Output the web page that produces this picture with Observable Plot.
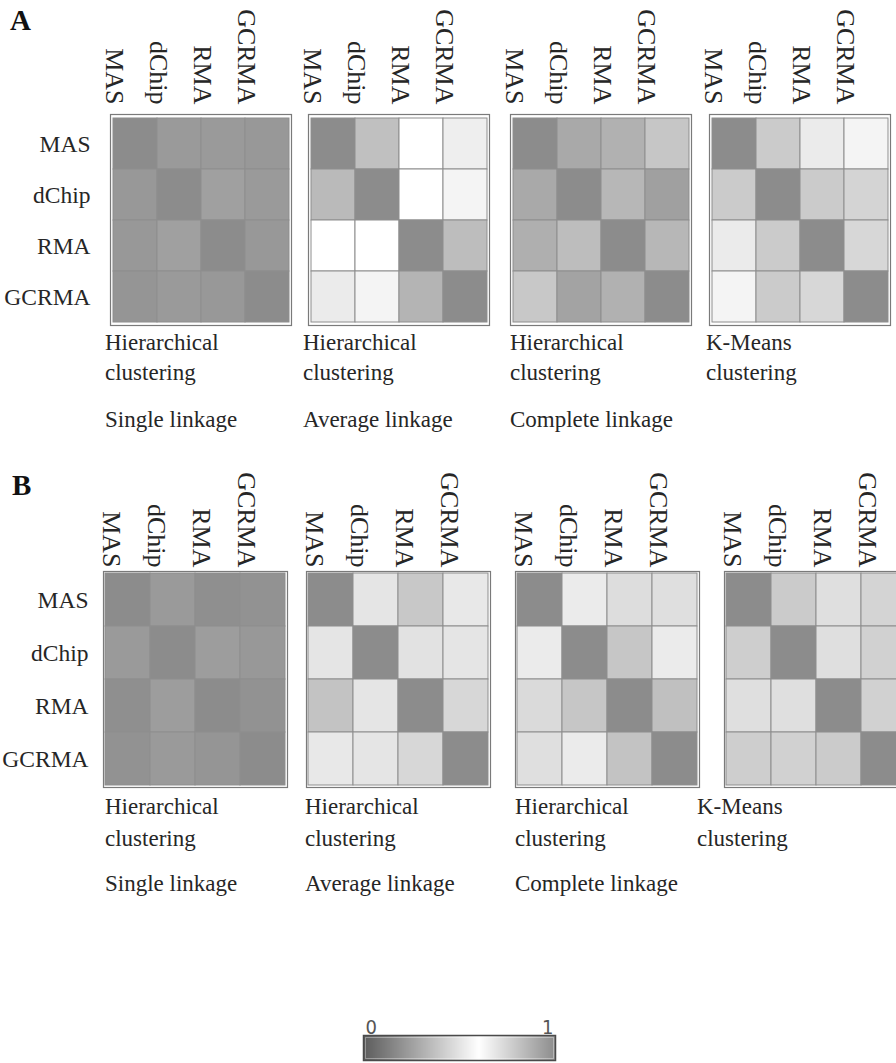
<!DOCTYPE html>
<html><head><meta charset="utf-8">
<script src="https://cdn.jsdelivr.net/npm/d3@7"></script>
<script src="https://cdn.jsdelivr.net/npm/@observablehq/plot@0.6"></script>
<style>
body{margin:0;background:#fff;}
#root{position:relative;width:896px;height:1063px;overflow:hidden;font-family:"Liberation Serif","Times New Roman",serif;color:#262626;}
.abs{position:absolute;white-space:nowrap;}
.abs svg{max-width:none !important;}
.sub{font-size:23px;line-height:23px;}
.letter{font-weight:bold;font-size:29px;line-height:29px;color:#111;}
</style></head><body><div id="root"></div>
<script>
// ---- data ----
const methods = ["MAS", "dChip", "RMA", "GCRMA"];
const titleLine1 = ["Hierarchical", "Hierarchical", "Hierarchical", "K-Means"];
const titleLine2 = ["clustering", "clustering", "clustering", "clustering"];
const titleLine3 = ["Single linkage", "Average linkage", "Complete linkage", ""];
const panelLetters = ["A", "B"];
const colorbarTicks = [0, 1];

// similarity matrices (rows = methods, cols = methods)
const A_single   = [[1.00,0.95,0.95,0.96],[0.96,1.00,0.93,0.95],[0.96,0.93,1.00,0.96],[0.97,0.95,0.96,1.00]];
const A_average  = [[1.00,0.82,0.60,0.66],[0.84,1.00,0.60,0.64],[0.60,0.60,1.00,0.83],[0.67,0.64,0.86,1.00]];
const A_complete = [[1.00,0.90,0.87,0.80],[0.90,1.00,0.85,0.93],[0.88,0.83,1.00,0.85],[0.79,0.92,0.87,1.00]];
const A_kmeans   = [[1.00,0.78,0.67,0.64],[0.78,1.00,0.78,0.75],[0.67,0.78,1.00,0.74],[0.64,0.78,0.74,1.00]];
const B_single   = [[1.00,0.95,0.99,0.98],[0.95,1.00,0.94,0.96],[0.99,0.94,1.00,0.98],[0.98,0.95,0.97,1.00]];
const B_average  = [[1.00,0.69,0.79,0.68],[0.69,1.00,0.70,0.69],[0.81,0.69,1.00,0.74],[0.68,0.69,0.74,1.00]];
const B_complete = [[1.00,0.67,0.72,0.71],[0.67,1.00,0.80,0.67],[0.73,0.80,1.00,0.82],[0.71,0.67,0.81,1.00]];
const B_kmeans   = [[1.00,0.78,0.71,0.75],[0.77,1.00,0.71,0.76],[0.71,0.71,1.00,0.76],[0.77,0.76,0.78,1.00]];

const colorDomain = [0, 0.6, 1];
const colorRange = ["#5c5c5c", "#ffffff", "#8c8c8c"];

// ---- layout ----
const root = document.getElementById("root");
const serif = '"Liberation Serif","Times New Roman",serif';
const colorScale = {type: "linear", domain: colorDomain, range: colorRange};

function place(el, left, top, w, h) {
  const d = document.createElement("div");
  d.className = "abs";
  d.style.left = left + "px"; d.style.top = top + "px";
  d.style.width = w + "px"; d.style.height = h + "px";
  el.style.maxWidth = "none";
  el.style.width = w + "px"; el.style.height = h + "px";
  d.appendChild(el);
  root.appendChild(d);
  return d;
}
function label(text, cls, left, top) {
  const d = document.createElement("div");
  d.className = "abs " + cls;
  d.style.left = left + "px"; d.style.top = top + "px";
  d.textContent = text;
  root.appendChild(d);
}

function heatmap(matrix, g) {
  const data = matrix.flatMap((row, i) => row.map((v, j) => ({row: methods[i], col: methods[j], value: v})));
  const mLeft = g.showRows ? 110 : 6, mTop = 110, mR = 6, mB = 6;
  const W = mLeft + g.w + mR, H = mTop + g.h + mB;
  const svg = Plot.plot({
    width: W, height: H,
    marginLeft: mLeft, marginRight: mR, marginTop: mTop, marginBottom: mB,
    x: {type: "band", domain: methods, padding: 0, axis: null},
    y: {type: "band", domain: methods, padding: 0, axis: null},
    color: colorScale,
    style: {fontFamily: serif, fontSize: "23px", background: "transparent", overflow: "visible", color: "#262626"},
    marks: [
      Plot.frame({stroke: "#7a7a7a", strokeWidth: 1.2, inset: -2}),
      Plot.cell(data, {x: "col", y: "row", fill: "value", stroke: "#8e8e8e", strokeWidth: 1, inset: 0}),
      Plot.text(methods, {x: d => d, frameAnchor: "top", rotate: 90, textAnchor: "end", dx: g.colDx, dy: g.colDy, fontSize: 26, fill: "#262626"}),
      g.showRows ? Plot.text(methods, {y: d => d, frameAnchor: "left", textAnchor: "end", dx: g.rowDx, fontSize: 23.5, fill: "#262626"}) : null
    ]
  });
  place(svg, g.x0 - mLeft, g.y0 - mTop, W, H);
}

const rows = [
  {mats: [A_single, A_average, A_complete, A_kmeans], x0: [112, 310, 512, 711], y0: 116, w: 177, h: 207,
   colDx: -11, colDy: -12, rowDx: -22, subX: [105, 303, 510, 706], base: [350, 380, 427], letter: [10, 5.7]},
  {mats: [B_single, B_average, B_complete, B_kmeans], x0: [105, 308, 517, 726], y0: 573, w: 180, h: 212,
   colDx: -7, colDy: -6, rowDx: -17, subX: [105, 305, 515, 697], base: [814, 846, 891], letter: [12, 470.7]}
];

rows.forEach((r, ri) => {
  label(panelLetters[ri], "letter", r.letter[0], r.letter[1]);
  r.mats.forEach((m, k) => {
    heatmap(m, {x0: r.x0[k], y0: r.y0, w: r.w, h: r.h, showRows: k === 0, colDx: r.colDx, colDy: r.colDy, rowDx: r.rowDx});
    const lines = [titleLine1[k], titleLine2[k], titleLine3[k]];
    lines.forEach((t, li) => { if (t) label(t, "sub", r.subX[k], r.base[li] - 19.3); });
  });
});

// ---- colorbar ----
const cbW = 192, cbH = 25, cbMT = 30, cbML = 10;
const cbMarks = [];
if (Plot.raster) {
  cbMarks.push(Plot.raster({fill: (x, y) => x, x1: 0, x2: 1, y1: 0, y2: 1, width: cbW, height: 1, imageRendering: "auto"}));
}
cbMarks.push(
  Plot.frame({stroke: "#4a4a4a", strokeWidth: 1.5}),
  Plot.frame({stroke: "#ffffff", strokeOpacity: 0.35, inset: 2}),
  Plot.text([colorbarTicks[0]], {x: d => d, text: d => String(d), frameAnchor: "top", textAnchor: "start", lineAnchor: "bottom", dx: 2, dy: -2}),
  Plot.text([colorbarTicks[1]], {x: d => d, text: d => String(d), frameAnchor: "top", textAnchor: "end", lineAnchor: "bottom", dx: -2, dy: -2})
);
const cbWidth = cbML + cbW + 10, cbHeight = cbMT + cbH + 4;
const cb = Plot.plot({
  width: cbWidth, height: cbHeight,
  marginLeft: cbML, marginRight: 10, marginTop: cbMT, marginBottom: 4,
  x: {domain: [0, 1], axis: null},
  y: {domain: [0, 1], axis: null},
  color: colorScale,
  style: {fontFamily: '"Liberation Sans Narrow","DejaVu Sans Condensed","Liberation Sans",sans-serif', fontSize: "20px", background: "transparent", overflow: "visible", color: "#555"},
  marks: cbMarks
});
place(cb, 363 - cbML, 1035 - cbMT, cbWidth, cbHeight);
</script></body></html>
